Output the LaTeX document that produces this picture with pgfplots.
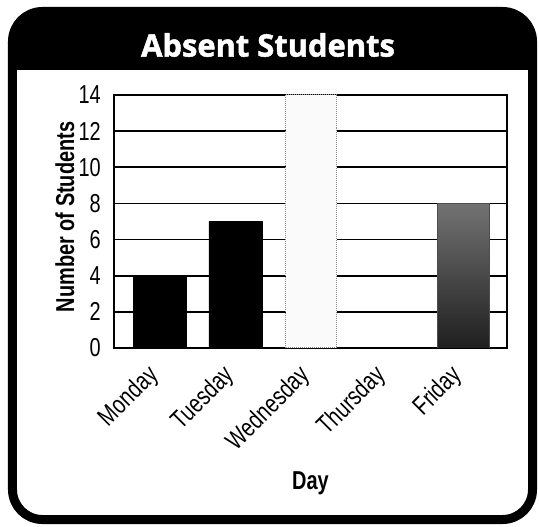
\documentclass[border=0pt]{standalone}
\usepackage{fontspec}
\usepackage{pgfplots}
\pgfplotsset{compat=1.18}
\setmainfont{Liberation Sans}[FakeStretch=0.77]
\newfontfamily\titlefont{Open Sans}[BoldFeatures={FakeBold=1.6}]
\begin{document}
\begin{tikzpicture}
\begin{axis}[name=ax, scale only axis,
  width=393bp, height=253bp,
  xmin=-0.6, xmax=4.58, ymin=0, ymax=14,
  ytick={0,2,...,14}, xtick={0,1,2,3,4},
  xticklabels={Monday,Tuesday,Wednesday,Thursday,Friday},
  ymajorgrids, grid style={black, line width=1.7bp},
  axis line style={line width=1.5bp},
  major tick length=0pt,
  /pgf/number format/assume math mode=true,
  ticklabel style={font=\fontsize{26}{30}\selectfont},
  yticklabel style={inner sep=0pt, xshift=-13bp},
  xticklabel style={xshift=-5bp, yshift=-24bp, rotate=45, anchor=east, inner sep=0pt},
  ylabel={\bfseries Number of Students},
  ylabel style={at={(rel axis cs:-0.125,0.518)}, anchor=center, font=\fontsize{26}{30}\selectfont},
  xlabel={\bfseries Day},
  xlabel style={at={(rel axis cs:0.5,-0.534)}, anchor=center, font=\fontsize{26}{30}\selectfont},
]
\addplot[ybar, bar width=53bp, fill=black, draw=black] coordinates {(0,4) (1,7)};
\addplot[ybar, bar width=51bp, fill=black!2, draw=black!45, densely dotted, line width=1bp] coordinates {(2,14)};
\addplot[ybar, bar width=53bp, fill=none, draw=none] coordinates {(3,0)};
\addplot[ybar, bar width=52bp, top color=black!55, bottom color=black!88, draw=black!70] coordinates {(4,8)};
\end{axis}
\begin{scope}[shift={(ax.south west)}]
\begin{scope}[x=1bp, y=1bp, shift={(-114bp,-179bp)}]
\useasboundingbox (0,0) rectangle (539,527);
\begin{scope}
\clip[rounded corners=30] (12.5,7.5) rectangle (532.5,515.5);
\fill[black] (0,457) rectangle (539,527);
\end{scope}
\draw[line width=9bp, rounded corners=30] (12.5,7.5) rectangle (532.5,515.5);
\node[text=white, font=\titlefont\bfseries\fontsize{31}{36}\selectfont] at (268,482) {Absent Students};
\end{scope}
\end{scope}
\end{tikzpicture}
\end{document}
